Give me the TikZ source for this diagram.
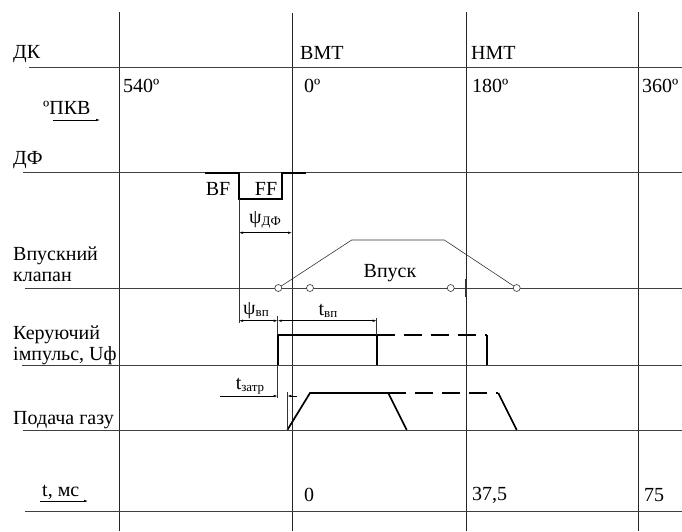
\documentclass[tikz,border=0pt]{standalone}
\usepackage{fontspec}
\setmainfont{Liberation Serif}
\usetikzlibrary{arrows.meta}
\tikzset{
  lbl/.style={anchor=west,inner sep=0pt,font=\fontsize{20}{21}\selectfont,align=left},
  ctr/.style={inner sep=0pt,font=\fontsize{20}{21}\selectfont},
  grid/.style={line width=0.9pt,black!75},
  vgrid/.style={line width=0.9pt,black!85},
  thin/.style={line width=0.6pt,black!80},
  thick/.style={line width=1.7pt,black},
  dimarr/.style={line width=0.6pt,black,{Latex[length=4pt,width=2.5pt]}-{Latex[length=4pt,width=2.5pt]}},
  onearr/.style={line width=0.6pt,black,-{Latex[length=4pt,width=2.5pt]}},
  valve/.style={line width=0.6pt,black!80},
  ring/.style={circle,draw=black!80,line width=0.6pt,fill=white,minimum size=7pt,inner sep=0pt}
}
\newcommand{\sbs}[1]{\raisebox{-2pt}{\fontsize{13}{13}\selectfont #1}}
\begin{document}
\begin{tikzpicture}[x=1pt,y=-1pt]
\useasboundingbox (0,0) rectangle (682,531);
% vertical grid
\draw[vgrid] (119,12) -- (119,531);
\draw[vgrid] (292,13) -- (292,531);
\draw[vgrid] (466,12) -- (466,531);
\draw[vgrid] (638,12) -- (638,531);
% horizontal grid
\draw[grid] (29,67) -- (682,67);
\draw[grid] (23,172.7) -- (682,172.7);
\draw[grid] (25,288) -- (682,288);
\draw[grid] (22,365) -- (682,365);
\draw[grid] (23,430) -- (682,430);
\draw[grid] (25,511.7) -- (682,511.7);
% top labels
\node[lbl] (dk) at (13,54) {ДК};
\node[lbl] (vmt) at (300,53) {ВМТ};
\node[lbl] (nmt) at (471,53) {НМТ};
\node[lbl] (a540) at (123,86) {540º};
\node[lbl] (a0) at (304,86) {0º};
\node[lbl] (a180) at (472,86) {180º};
\node[lbl] (a360) at (642,86) {360º};
\node[lbl] (pkv) at (43,108) {ºПКВ};
\coordinate (pkvA) at (53,120);
\coordinate (pkvB) at (100,120);
\draw[onearr] (pkvA) -- (pkvB);
\node[lbl] (df) at (13,160) {ДФ};
% DF pulse
\draw[thick] (205,172.7) -- (239,172.7) -- (239,199.3) -- (281.7,199.3) -- (281.7,172.7) -- (306,172.7);
\node[ctr] (bf) at (218,189) {BF};
\node[ctr] (ff) at (266,189) {FF};
\draw[thin] (239,199.3) -- (239,323);
\draw[dimarr] (239,232.7) -- (292,232.7);
\node[ctr] (psidf) at (265,220) {ψ\sbs{ДФ}};
% intake valve
\node[lbl] (vk) at (13,264) {Впускний\\клапан};
\draw[valve] (278.3,288) -- (351.7,240) -- (444.3,240) -- (516.7,288);
\node[ring] (c1) at (278.3,288) {};
\node[ring] (c2) at (310,288) {};
\node[ring] (c3) at (450.7,288) {};
\node[ring] (c4) at (516.7,288) {};
\draw[line width=1.6pt,black!80] (466,279) -- (466,297);
\node[ctr] (vpusk) at (390,273) {Впуск};
% control pulse
\node[lbl] (ki) at (13,345) {Керуючий\\імпульс, Uф};
\draw[thick] (277.7,365) -- (277.7,335) -- (376.7,335) -- (376.7,365);
\draw[thick,dash pattern=on 18pt off 9pt] (376.7,335) -- (486.7,335);
\draw[thick] (486.7,335) -- (486.7,365);
\draw[thin] (277.7,316) -- (277.7,335);
\draw[thin] (277.7,365) -- (277.7,398);
\draw[thin] (376.7,318) -- (376.7,335);
\draw[dimarr] (239,320.7) -- (277.7,320.7);
\draw[dimarr] (277.7,320.7) -- (376.7,320.7);
\node[ctr] (psivp) at (256,311) {ψ\sbs{вп}};
\node[ctr] (tvp) at (328,311) {t\sbs{вп}};
% gas supply
\node[lbl] (pg) at (13,420) {Подача газу};
\draw[thick] (287.3,430) -- (310,393) -- (388.3,393) -- (406.7,430);
\draw[thick,dash pattern=on 18pt off 9pt] (388.3,393) -- (498.3,393);
\draw[thick] (498.3,393) -- (516.7,430);
\draw[thin] (287.3,392) -- (287.3,430);
\coordinate (tzA) at (220,396);
\coordinate (tzB) at (277.7,396);
\coordinate (tzC) at (297,396);
\coordinate (tzD) at (287.3,396);
\draw[onearr] (tzA) -- (tzB);
\draw[onearr] (tzC) -- (tzD);
\node[ctr] (tz) at (250,386) {t\sbs{затр}};
% time axis
\node[lbl] (tms) at (42,492) {t, мс};
\coordinate (tmsA) at (40,501);
\coordinate (tmsB) at (88,501);
\draw[onearr] (tmsA) -- (tmsB);
\node[lbl] (t0) at (304,495) {0};
\node[lbl] (t37) at (472,495) {37,5};
\node[lbl] (t75) at (644,495) {75};
\end{tikzpicture}
\end{document}
